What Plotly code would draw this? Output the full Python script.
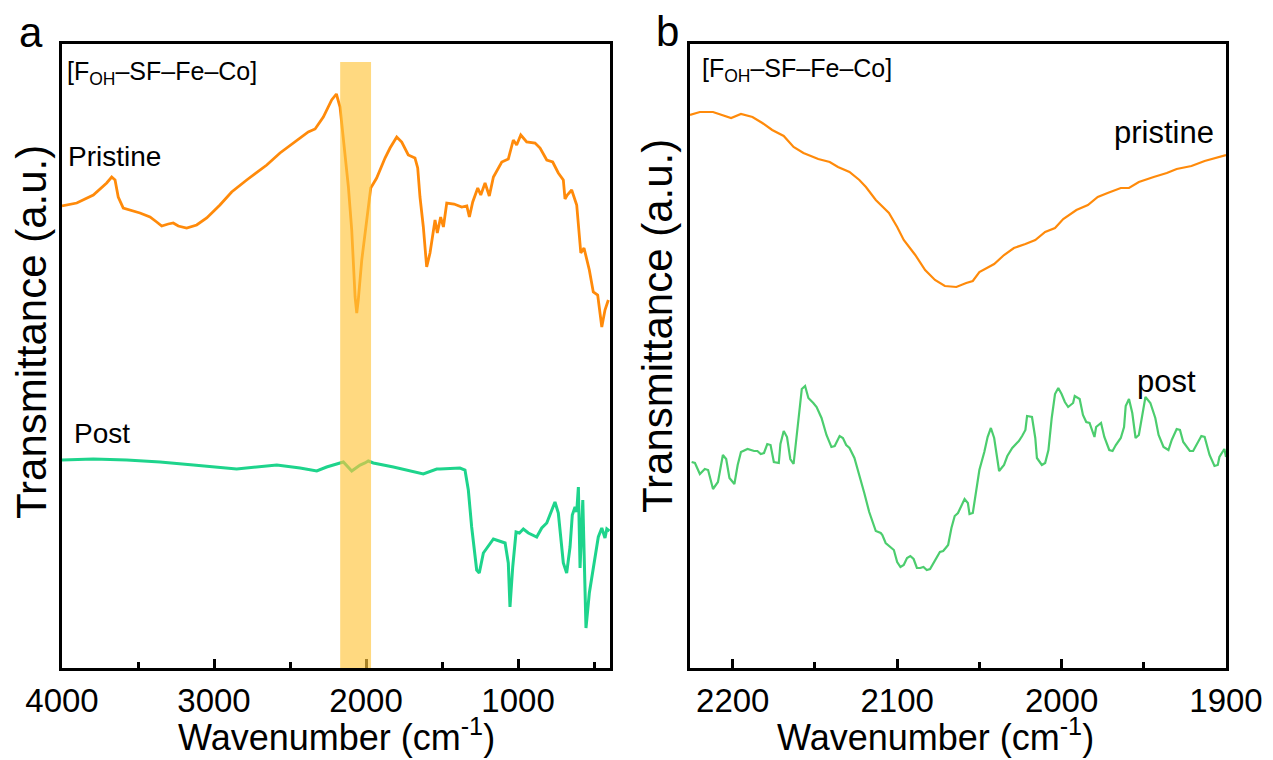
import plotly.graph_objs as go

# panel a: full range FTIR spectra (wavenumber in cm-1, transmittance in a.u.)
pristine_wn_a = [4000, 3903, 3794, 3706, 3673, 3651, 3630, 3597, 3487, 3421, 3377, 3344, 3301,
                 3268, 3235, 3180, 3114, 3048, 2961, 2884, 2785, 2653, 2566, 2478, 2380, 2335,
                 2281, 2226, 2204, 2195, 2171, 2149, 2138, 2116, 2094, 2072, 2061, 2051, 2028,
                 2007, 1985, 1969, 1930, 1875, 1842, 1798, 1765, 1722, 1678, 1660, 1645, 1623,
                 1601, 1579, 1546, 1531, 1509, 1491, 1469, 1421, 1370, 1337, 1320, 1298, 1265,
                 1245, 1217, 1189, 1162, 1107, 1064, 1031, 1009, 982, 943, 888, 855, 811, 772,
                 735, 702, 691, 676, 647, 614, 587, 566, 531, 505, 476, 449, 428, 406]
pristine_t_a = [462, 465, 473, 485, 491, 488, 471, 460, 455, 451, 446, 442, 444,
                445, 442, 440, 443, 450, 463, 476, 488, 503, 515, 525, 536, 539,
                551, 568, 573, 574, 561, 531, 511, 481, 438, 371, 355, 368, 408,
                435, 461, 480, 490, 510, 520, 531, 526, 513, 510, 500, 471, 441,
                401, 415, 448, 435, 451, 441, 465, 464, 461, 462, 451, 466, 480,
                473, 485, 472, 491, 506, 509, 528, 523, 533, 526, 525, 520, 508, 506,
                495, 488, 469, 473, 478, 463, 415, 420, 398, 376, 373, 341, 358, 368]

post_wn_a = [4000, 3794, 3574, 3355, 3136, 2851, 2587, 2434, 2324, 2259, 2171, 2149, 2094,
             2039, 2007, 1985, 1952, 1820, 1623, 1535, 1513, 1382, 1349, 1327, 1305, 1272,
             1255, 1228, 1162, 1085, 1064, 1053, 1035, 1013, 991, 965, 932, 877, 844, 811,
             757, 735, 702, 680, 658, 643, 625, 614, 603, 592, 574, 566, 553, 531, 505,
             472, 449, 428, 416, 399]
post_t_a = [208, 209, 208, 206, 203, 199, 203, 200, 197, 201, 205, 206, 197,
            203, 205, 207, 205, 201, 194, 199, 199, 200, 198, 178, 141, 98,
            95, 115, 129, 125, 105, 61, 101, 136, 135, 139, 135, 131, 140, 145,
            166, 155, 105, 95, 121, 153, 161, 156, 181, 100, 168, 128, 40, 75, 101,
            131, 140, 130, 139, 137]

# panel b: zoom on the C≡N region
pristine_wn_b = [2226, 2220, 2212, 2207, 2201, 2195, 2188, 2182, 2176, 2169, 2163, 2157, 2148,
                 2141, 2136, 2129, 2123, 2119, 2113, 2105, 2100, 2096, 2089, 2083, 2077, 2071,
                 2064, 2058, 2054, 2050, 2041, 2035, 2029, 2022, 2016, 2010, 2004, 1999, 1991,
                 1984, 1978, 1972, 1964, 1959, 1953, 1944, 1936, 1930, 1921, 1913, 1907, 1900]
pristine_t_b = [553, 556, 556, 553, 550, 554, 551, 545, 538, 532, 521, 515, 509,
                506, 501, 496, 488, 481, 468, 455, 441, 428, 413, 398, 388, 382,
                381, 385, 387, 396, 404, 413, 420, 424, 428, 436, 440, 449, 458,
                463, 471, 475, 480, 480, 486, 491, 495, 499, 502, 507, 510, 513]

post_wn_b = [2225, 2223, 2220, 2217, 2215, 2212, 2209, 2206, 2204, 2202, 2199, 2197, 2195,
             2191, 2187, 2185, 2183, 2181, 2179, 2177, 2175, 2172, 2171, 2169, 2167, 2165,
             2163, 2158, 2156, 2154, 2151, 2149, 2146, 2143, 2140, 2138, 2135, 2133, 2131,
             2129, 2126, 2123, 2120, 2117, 2113, 2110, 2109, 2107, 2104, 2102, 2100, 2098,
             2096, 2094, 2092, 2090, 2088, 2086, 2084, 2082, 2080, 2077, 2074, 2072, 2069,
             2067, 2065, 2063, 2061, 2059, 2057, 2056, 2054, 2052, 2050, 2047, 2045, 2043,
             2041, 2039, 2038, 2035, 2033, 2030, 2026, 2024, 2022, 2021, 2018, 2016, 2015,
             2012, 2010, 2008, 2006, 2004, 2002, 2000, 1998, 1996, 1993, 1992, 1989, 1987,
             1985, 1983, 1980, 1979, 1976, 1974, 1971, 1969, 1967, 1964, 1962, 1961, 1959,
             1957, 1955, 1953, 1951, 1949, 1946, 1943, 1941, 1938, 1935, 1933, 1930, 1928,
             1926, 1922, 1920, 1917, 1915, 1913, 1910, 1907, 1905, 1904, 1901, 1900]
post_t_b = [206, 205, 194, 199, 198, 179, 186, 213, 209, 190, 184, 203, 216,
            219, 217, 217, 214, 215, 224, 223, 206, 205, 224, 237, 231, 209,
            204, 279, 282, 270, 265, 261, 250, 233, 221, 222, 232, 230, 223,
            220, 210, 193, 175, 156, 137, 135, 133, 125, 121, 118, 106, 101,
            103, 110, 112, 109, 100, 100, 101, 98, 99, 108, 116, 117, 123,
            140, 152, 155, 162, 169, 165, 154, 155, 175, 198, 216, 231, 240,
            230, 208, 197, 203, 212, 220, 227, 232, 238, 252, 251, 230, 210,
            203, 205, 218, 250, 274, 280, 274, 266, 261, 265, 272, 269, 253,
            246, 245, 231, 241, 245, 231, 218, 217, 223, 230, 241, 262, 269,
            255, 230, 233, 253, 271, 265, 250, 233, 221, 218, 228, 239, 238,
            226, 217, 217, 226, 232, 231, 213, 202, 203, 211, 219, 211]

ticks_a = [4000, 3000, 2000, 1000]
minor_a = [3500, 2500, 1500, 500]
ticks_b = [2200, 2100, 2000, 1900]
minor_b = [2150, 2050, 1950]
band = [2170, 1967]

# the page body adds an 8px margin, so the figure is drawn a bit smaller
OFF = 8
W, H = 1273 - OFF, 760 - OFF
FONT = "Arial, Liberation Sans, sans-serif"
ORANGE = "#FF8A0A"


def px(x):
    return (x - OFF) / W


def py(y):
    return 1 - (y - OFF) / H


fig = go.Figure()
fig.add_trace(go.Scatter(x=pristine_wn_a, y=pristine_t_a, mode="lines",
                         line=dict(color=ORANGE, width=2.8), xaxis="x", yaxis="y"))
fig.add_trace(go.Scatter(x=post_wn_a, y=post_t_a, mode="lines",
                         line=dict(color="#1ED48C", width=3), xaxis="x", yaxis="y"))
fig.add_trace(go.Scatter(x=pristine_wn_b, y=pristine_t_b, mode="lines",
                         line=dict(color=ORANGE, width=2.2), xaxis="x2", yaxis="y2"))
fig.add_trace(go.Scatter(x=post_wn_b, y=post_t_b, mode="lines",
                         line=dict(color="#4CCD6E", width=2.2), xaxis="x2", yaxis="y2"))

# highlighted band in panel a
fig.add_shape(type="rect", xref="x", yref="y", x0=band[0], x1=band[1], y0=0, y1=606,
              fillcolor="rgb(255,196,60)", opacity=0.65, line_width=0, layer="above")

frame = dict(showline=True, linecolor="black", linewidth=2.5, mirror=True, automargin=False,
             showgrid=False, zeroline=False)
xaxis_common = dict(ticks="inside", ticklen=9, tickwidth=2.5, tickcolor="black",
                    tickfont=dict(family=FONT, size=33, color="black"),
                    ticklabelstandoff=2, **frame)

fig.update_layout(
    width=W, height=H,
    margin=dict(l=0, r=0, t=0, b=0),
    plot_bgcolor="white", paper_bgcolor="white",
    showlegend=False,
    xaxis=dict(domain=[px(62), px(610)], range=[4000, 395], tickmode="array", tickvals=ticks_a,
               minor=dict(tickvals=minor_a, ticks="inside", ticklen=6, tickwidth=2.5,
                          tickcolor="black"),
               anchor="y", **xaxis_common),
    yaxis=dict(domain=[py(668), py(44)], range=[0, 624], showticklabels=False, ticks="",
               anchor="x", **frame),
    xaxis2=dict(domain=[px(690), px(1226)], range=[2226, 1900], tickmode="array",
                tickvals=ticks_b,
                minor=dict(tickvals=minor_b, ticks="inside", ticklen=6, tickwidth=2.5,
                           tickcolor="black"),
                anchor="y2", **xaxis_common),
    yaxis2=dict(domain=[py(668), py(44)], range=[0, 624], showticklabels=False, ticks="",
                anchor="x2", **frame),
)

# texte: panel letters, titles, labels
labels = [
    ("a", 31, 33, 42, 0, "center"),
    ("b", 667, 32, 42, 0, "center"),
    ("[F<sub>OH</sub>–SF–Fe–Co]", 65, 73, 25, 0, "left"),
    ("[F<sub>OH</sub>–SF–Fe–Co]", 700, 70, 25, 0, "left"),
    ("Pristine", 66, 157, 28, 0, "left"),
    ("Post", 72, 433, 28, 0, "left"),
    ("pristine", 1216, 133, 31, 0, "right"),
    ("post", 1198, 381, 31, 0, "right"),
    ("Wavenumber (cm<sup>-1</sup>)", 336, 735, 36, 0, "center"),
    ("Wavenumber (cm<sup>-1</sup>)", 935, 735, 36, 0, "center"),
    ("Transmittance (a.u.)", 31, 332, 42, -90, "center"),
    ("Transmittance (a.u.)", 657, 326, 42, -90, "center"),
]
for text, x, y, size, angle, anchor in labels:
    fig.add_annotation(text=text, x=px(x), y=py(y), xref="paper", yref="paper",
                       xanchor=anchor, yanchor="middle", showarrow=False, textangle=angle,
                       font=dict(family=FONT, size=size, color="black"))

fig.write_html("out.html")
